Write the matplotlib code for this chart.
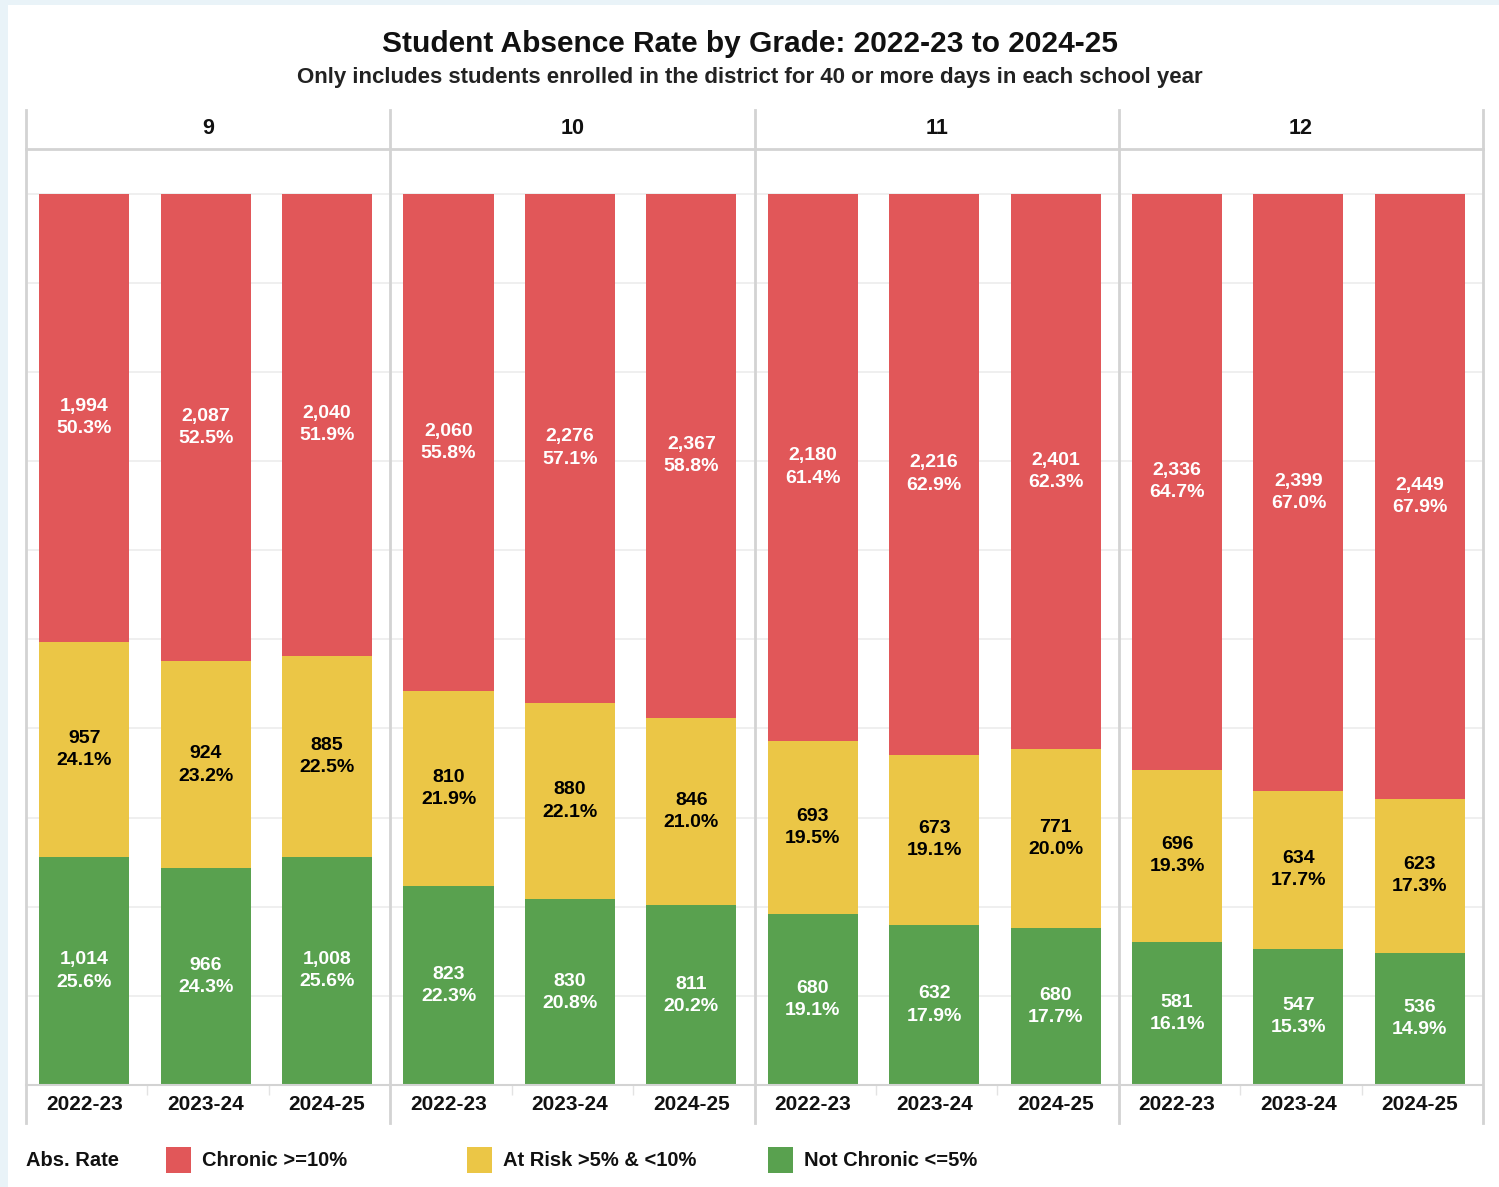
import numpy as np
import matplotlib.pyplot as plt
from matplotlib.patches import Rectangle
from matplotlib.lines import Line2D

plt.rcParams['font.family'] = ['Liberation Sans', 'DejaVu Sans']

grades = ['9', '10', '11', '12']
years = ['2022-23', '2023-24', '2024-25']

# student counts per grade, one entry per school year
chronic = [[1994, 2087, 2040], [2060, 2276, 2367], [2180, 2216, 2401], [2336, 2399, 2449]]
at_risk = [[957, 924, 885], [810, 880, 846], [693, 673, 771], [696, 634, 623]]
not_chronic = [[1014, 966, 1008], [823, 830, 811], [680, 632, 680], [581, 547, 536]]

cat_labels = ['Chronic >=10%', 'At Risk >5% & <10%', 'Not Chronic <=5%']
cat_colors = ['#e15759', '#ebc646', '#59a14f']
text_colors = ['white', 'black', 'white']

W, H = 1499, 1187
fig = plt.figure(figsize=(W / 100, H / 100), dpi=100, facecolor='#e9f3f8')


def fx(x):
    return x / W


def fy(y):
    return 1 - y / H


# white card behind everything
fig.patches.append(Rectangle((fx(8), 0), 1 - fx(8), fy(5), transform=fig.transFigure,
                             facecolor='white', edgecolor='none', zorder=-5))

fig.text(0.5, fy(44), 'Student Absence Rate by Grade: 2022-23 to 2024-25',
         ha='center', va='center', fontsize=21.5, fontweight='bold', color='#111111')
fig.text(0.5, fy(77), 'Only includes students enrolled in the district for 40 or more days in each school year',
         ha='center', va='center', fontsize=16, fontweight='bold', color='#222222')

left, right = 26, 1483
top, bottom = 149, 1085
head_top = 110
pw = (right - left) / 4
grid_col = '#ececec'
line_col = '#d3d3d3'

for g in range(4):
    x0 = left + g * pw
    ax = fig.add_axes([fx(x0), fy(bottom), pw / W, (bottom - top) / H])
    ax.set_facecolor('none')
    c = np.array(chronic[g], dtype=float)
    r = np.array(at_risk[g], dtype=float)
    n = np.array(not_chronic[g], dtype=float)
    tot = c + r + n
    x = np.arange(3)
    base = np.zeros(3)
    for counts, col, tc in [(n, cat_colors[2], text_colors[2]),
                            (r, cat_colors[1], text_colors[1]),
                            (c, cat_colors[0], text_colors[0])]:
        share = counts / tot
        ax.bar(x - 0.02, share, width=0.742, bottom=base, color=col, edgecolor='none', zorder=2)
        for i in range(3):
            ax.text(x[i] - 0.02, base[i] + share[i] / 2, f'{int(counts[i]):,}\n{share[i]:.1%}',
                    ha='center', va='center', fontsize=14, fontweight='bold',
                    color=tc, linespacing=1.4, zorder=3)
        base = base + share

    ax.set_xlim(-0.5, 2.5)
    ax.set_ylim(0, 1.05)
    ax.set_yticks(np.arange(0, 1.01, 0.1))
    ax.yaxis.grid(True, color=grid_col, lw=1.2, zorder=0)
    ax.tick_params(axis='y', length=0, labelleft=False)
    ax.set_xticks(x - 0.02)
    ax.set_xticklabels(years, fontsize=15, fontweight='bold', color='#111111')
    ax.set_xticks([0.5, 1.5], minor=True)
    ax.tick_params(axis='x', which='major', length=0, pad=7)
    ax.tick_params(axis='x', which='minor', length=7, color='#e3e3e3', width=1)
    for s in ['left', 'right']:
        ax.spines[s].set_visible(False)
    ax.spines['bottom'].set_color(line_col)
    ax.spines['bottom'].set_linewidth(1.5)
    ax.spines['top'].set_color(line_col)
    ax.spines['top'].set_linewidth(2)

    fig.text(fx(x0 + pw / 2), fy(128), grades[g], ha='center', va='center',
             fontsize=15.5, fontweight='bold', color='#111111')

# panel borders and separators
for g in range(5):
    xe = fx(left + g * pw)
    fig.lines.append(Line2D([xe, xe], [fy(head_top), fy(1123)], transform=fig.transFigure,
                            color=line_col, lw=2))

# legend
fig.text(fx(26), fy(1160), 'Abs. Rate', ha='left', va='center', fontsize=14.5,
         fontweight='bold', color='#111111')
for i, (lab, col) in enumerate(zip(cat_labels, cat_colors)):
    sx = 166 + i * 301
    fig.patches.append(Rectangle((fx(sx), fy(1173)), 25 / W, 26 / H, transform=fig.transFigure,
                                 facecolor=col, edgecolor='none'))
    fig.text(fx(sx + 36), fy(1160), lab, ha='left', va='center', fontsize=14.5,
             fontweight='bold', color='#111111')

fig.savefig('out.png', dpi=100, facecolor=fig.get_facecolor())
